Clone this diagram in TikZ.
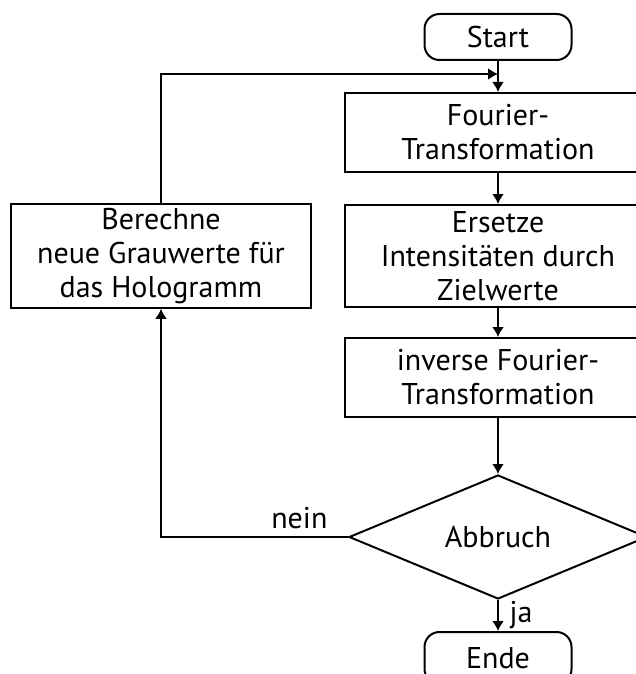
\documentclass[tikz,border=0pt]{standalone}
\usepackage{fontspec}
\setmainfont{PT Sans}
\usetikzlibrary{arrows.meta, positioning, shapes.geometric}

\begin{document}
\begin{tikzpicture}[
    x=1pt, y=1pt,
    font=\fontsize{15}{17}\selectfont,
    box/.style={draw, line width=1pt, align=center, minimum width=153pt, inner sep=2pt},
    terminal/.style={draw, line width=1pt, rounded corners=7.5pt, minimum width=73.5pt, minimum height=23pt},
    decision/.style={draw, diamond, line width=1pt, aspect=2.4, minimum width=149pt, minimum height=62pt, inner sep=0pt},
    arrow/.style={-{Latex[length=5pt, width=6pt]}, line width=1pt}
]
\useasboundingbox (0,0) rectangle (318,-337);
\clip (0,0) rectangle (318,-337);

% Nodes
\node[terminal] (start) at (249,-18.5) {Start};
\node[box, minimum height=39.5pt, below=15.5pt of start] (ft) {Fourier-\\Transformation};
\node[box, minimum height=51pt, below=15.5pt of ft] (ersetze) {Ersetze\\Intensitäten durch\\Zielwerte};
\node[box, minimum height=39.5pt, below=14.5pt of ersetze] (ift) {inverse Fourier-\\Transformation};
\node[decision, below=28pt of ift] (abbruch) {Abbruch};
\node[terminal, minimum height=26pt, below=15.5pt of abbruch] (ende) {Ende};
\node[box, minimum width=150pt, minimum height=51pt, left=16pt of ersetze] (holo) {Berechne\\neue Grauwerte für\\das Hologramm};
\coordinate[below=6.5pt of start] (join);

% Arrows
\draw[arrow] (start) -- (ft);
\draw[arrow] (ft) -- (ersetze);
\draw[arrow] (ersetze) -- (ift);
\draw[arrow] (ift) -- (abbruch);
\draw[arrow] (abbruch) -- node[right, xshift=2pt] {ja} (ende);
\draw[arrow] (abbruch.west) -| node[above, pos=0.13] {nein} (holo.south);
\draw[arrow] (holo.north) |- (join);

\end{tikzpicture}
\end{document}
